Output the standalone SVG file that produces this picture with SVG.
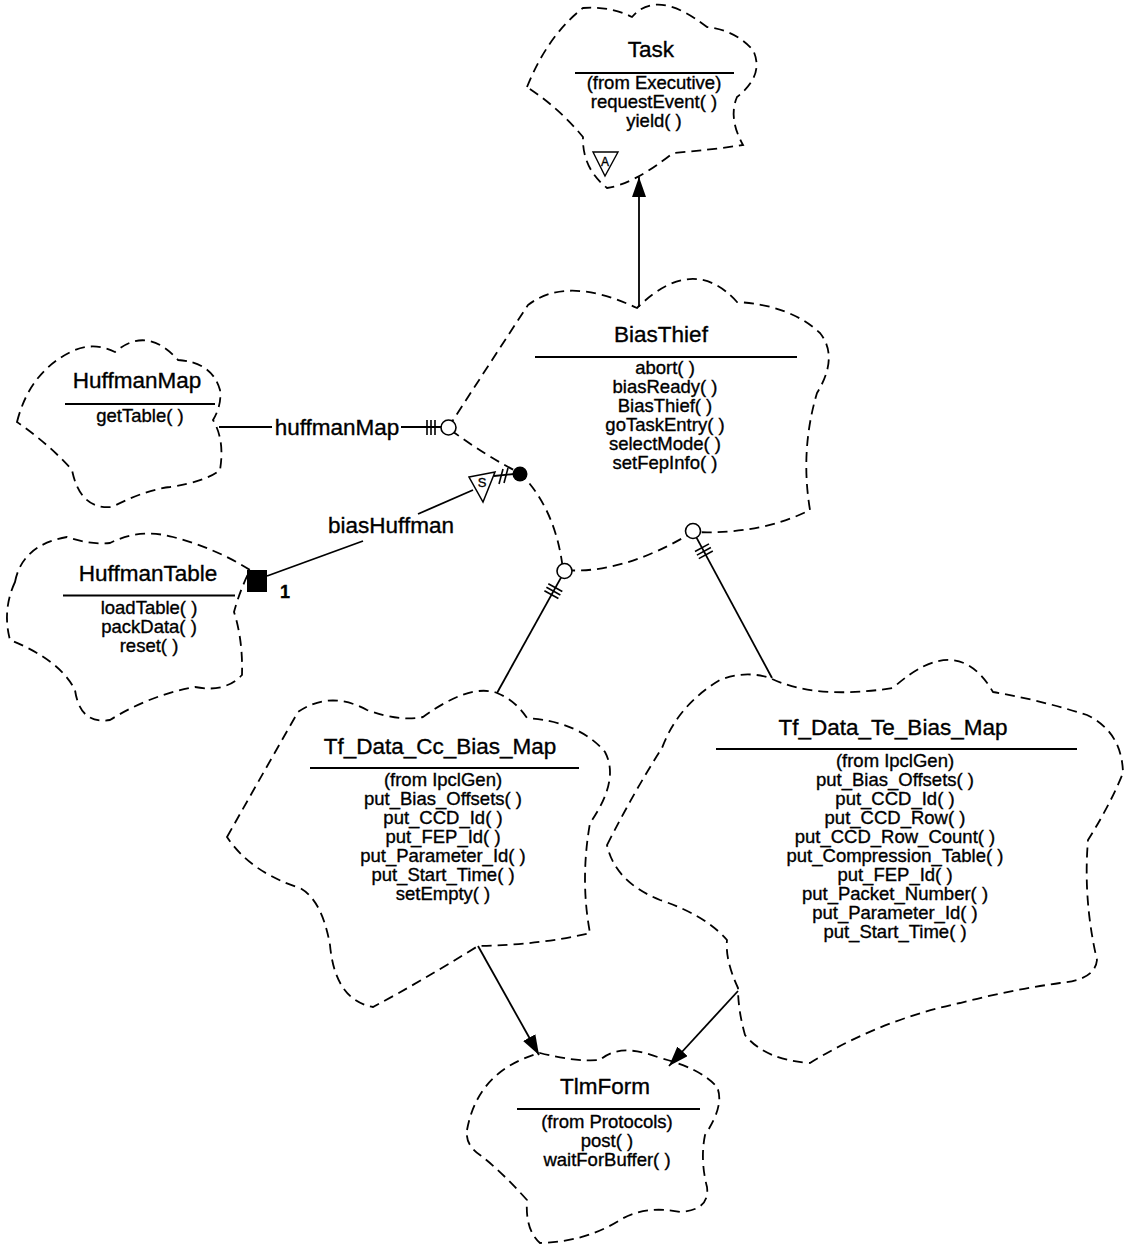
<svg xmlns="http://www.w3.org/2000/svg" width="1126" height="1248" viewBox="0 0 1126 1248">
<defs>
<style>
.cloud{fill:none;stroke:#000;stroke-width:1.8;stroke-dasharray:10 6;}
.t{font-family:"Liberation Sans",Arial,Helvetica,sans-serif;fill:#000;stroke:#000;stroke-width:0.35;text-anchor:middle;}
.title{font-size:22.5px;}
.mem{font-size:18.5px;}
.lbl{font-size:22.5px;}
.ul{stroke:#000;stroke-width:2;}
.conn{stroke:#000;stroke-width:1.8;fill:none;}
.hatch{stroke:#000;stroke-width:1.6;}
</style>
<marker id="arrow" markerUnits="userSpaceOnUse" viewBox="0 0 20 14" refX="20" refY="7" markerWidth="20" markerHeight="14" orient="auto">
<path d="M0,0 L20,7 L0,14 Z" fill="#000"/>
</marker>
</defs>
<rect width="1126" height="1248" fill="#fff"/>

<g id="task">
<path class="cloud" d="M 527,87 Q 548,35 583,8 Q 610,6 632,17 Q 657,-12 707,27 Q 735,30 753,50 Q 765,75 737,97 Q 728,118 743,145 Q 710,150 673,153 Q 634,184 607,188 Q 582,168 583,137 Q 559,108 527,87 Z"/>
<text class="t title" x="651" y="57">Task</text>
<line class="ul" x1="575" y1="73" x2="734" y2="73"/>
<text class="t mem"><tspan x="654" y="89">(from Executive)</tspan><tspan x="654" y="108">requestEvent( )</tspan><tspan x="654" y="127">yield( )</tspan></text>
<polygon points="593,152 618,152 605,176" fill="#fff" stroke="#000" stroke-width="1.4"/>
<text class="t" x="605" y="166" font-size="12">A</text>
</g>

<g id="biasthief">
<path class="cloud" d="M 448,428 Q 488,366 528,305 Q 567,275 637,308 Q 693,253 737,302 Q 790,305 820,333 Q 839,357 817,393 Q 800,450 810,510 Q 760,535 693,532 Q 622,575 563,570 Q 556,509 520,473 Q 487,457 448,428 Z"/>
<text class="t title" x="661" y="342">BiasThief</text>
<line class="ul" x1="535" y1="357" x2="797" y2="357"/>
<text class="t mem"><tspan x="665" y="374">abort( )</tspan><tspan x="665" y="393">biasReady( )</tspan><tspan x="665" y="412">BiasThief( )</tspan><tspan x="665" y="431">goTaskEntry( )</tspan><tspan x="665" y="450">selectMode( )</tspan><tspan x="665" y="469">setFepInfo( )</tspan></text>
</g>

<g id="huffmanmap">
<path class="cloud" d="M 17,422 Q 30,370 75,350 Q 95,342 115,352 Q 147,325 178,360 Q 212,362 220,390 Q 222,405 213,420 Q 225,440 220,470 Q 205,482 170,487 Q 145,490 112,507 Q 80,510 72,470 Q 50,445 17,422 Z"/>
<text class="t title" x="137" y="388">HuffmanMap</text>
<line class="ul" x1="65" y1="404" x2="215" y2="404"/>
<text class="t mem" x="140" y="422">getTable( )</text>
</g>

<g id="huffmantable">
<path class="cloud" d="M 15,582 Q 22,545 67,537 Q 90,545 110,543 Q 140,528 173,537 Q 215,548 250,570 Q 240,590 234,612 Q 243,640 242,675 Q 225,693 195,687 Q 150,695 110,720 Q 80,725 75,690 Q 60,660 10,640 Q 2,610 15,582 Z"/>
<text class="t title" x="148" y="581">HuffmanTable</text>
<line class="ul" x1="63" y1="595.5" x2="235" y2="595.5"/>
<text class="t mem"><tspan x="149" y="614">loadTable( )</tspan><tspan x="149" y="633">packData( )</tspan><tspan x="149" y="652">reset( )</tspan></text>
</g>

<g id="tf_data_cc_bias_map">
<path class="cloud" d="M 227,837 Q 262,775 298,712 Q 330,690 367,710 Q 400,722 423,717 Q 470,683 497,693 Q 515,700 527,718 Q 580,722 605,752 Q 620,780 590,823 Q 580,880 590,933 Q 540,945 478,946 Q 420,982 373,1007 Q 335,1000 330,945 Q 322,900 300,888 Q 250,872 227,837 Z"/>
<text class="t title" x="440" y="754">Tf_Data_Cc_Bias_Map</text>
<line class="ul" x1="310" y1="768" x2="579" y2="768"/>
<text class="t mem"><tspan x="443" y="786">(from IpclGen)</tspan><tspan x="443" y="805">put_Bias_Offsets( )</tspan><tspan x="443" y="824">put_CCD_Id( )</tspan><tspan x="443" y="843">put_FEP_Id( )</tspan><tspan x="443" y="862">put_Parameter_Id( )</tspan><tspan x="443" y="881">put_Start_Time( )</tspan><tspan x="443" y="900">setEmpty( )</tspan></text>
</g>

<g id="tf_data_te_bias_map">
<path class="cloud" d="M 607,845 Q 635,790 662,748 Q 678,705 720,680 Q 745,670 770,678 Q 815,700 893,688 Q 957,630 993,692 Q 1040,700 1087,715 Q 1122,732 1123,773 Q 1110,805 1088,840 Q 1083,900 1097,960 Q 1095,980 1060,983 Q 1010,990 960,1003 Q 880,1020 810,1063 Q 765,1060 745,1035 Q 738,1010 738,988 Q 725,960 727,940 Q 705,915 660,900 Q 615,882 607,845 Z"/>
<text class="t title" x="893" y="735">Tf_Data_Te_Bias_Map</text>
<line class="ul" x1="716" y1="749" x2="1077" y2="749"/>
<text class="t mem"><tspan x="895" y="767">(from IpclGen)</tspan><tspan x="895" y="786">put_Bias_Offsets( )</tspan><tspan x="895" y="805">put_CCD_Id( )</tspan><tspan x="895" y="824">put_CCD_Row( )</tspan><tspan x="895" y="843">put_CCD_Row_Count( )</tspan><tspan x="895" y="862">put_Compression_Table( )</tspan><tspan x="895" y="881">put_FEP_Id( )</tspan><tspan x="895" y="900">put_Packet_Number( )</tspan><tspan x="895" y="919">put_Parameter_Id( )</tspan><tspan x="895" y="938">put_Start_Time( )</tspan></text>
</g>

<g id="tlmform">
<path class="cloud" d="M 467,1130 Q 478,1070 540,1053 Q 575,1062 600,1060 Q 620,1042 660,1058 Q 700,1068 717,1087 Q 725,1105 705,1135 Q 700,1160 707,1187 Q 710,1210 680,1212 Q 645,1205 620,1220 Q 585,1242 540,1243 Q 525,1230 527,1200 Q 500,1170 480,1155 Q 465,1145 467,1130 Z"/>
<text class="t title" x="605" y="1094">TlmForm</text>
<line class="ul" x1="517" y1="1109" x2="700" y2="1109"/>
<text class="t mem"><tspan x="607" y="1128">(from Protocols)</tspan><tspan x="607" y="1147">post( )</tspan><tspan x="607" y="1166">waitForBuffer( )</tspan></text>
</g>

<g id="connectors">
<line class="conn" x1="639" y1="307" x2="639" y2="177" marker-end="url(#arrow)"/>
<line class="conn" x1="219" y1="427" x2="272" y2="427"/>
<line class="conn" x1="401" y1="427" x2="441" y2="427"/>
<text class="t lbl" x="337" y="435">huffmanMap</text>
<line class="hatch" x1="427" y1="420" x2="427" y2="435"/>
<line class="hatch" x1="431" y1="420" x2="431" y2="435"/>
<line class="hatch" x1="435" y1="420" x2="435" y2="435"/>
<circle cx="448.5" cy="427.5" r="7.5" fill="#fff" stroke="#000" stroke-width="1.6"/>
<rect x="247" y="570" width="20" height="22" fill="#000"/>
<text class="t" x="285" y="598" font-size="18" font-weight="bold">1</text>
<line class="conn" x1="267" y1="576" x2="363" y2="541"/>
<line class="conn" x1="418" y1="514" x2="473" y2="490"/>
<text class="t lbl" x="391" y="533">biasHuffman</text>
<polygon points="469,477 495,472 483,502" fill="#fff" stroke="#000" stroke-width="1.5"/>
<text class="t" x="482" y="487" font-size="13">S</text>
<line class="conn" x1="494" y1="476" x2="514" y2="474"/>
<line class="hatch" x1="503" y1="469" x2="499" y2="484"/>
<line class="hatch" x1="508" y1="468" x2="504" y2="483"/>
<circle cx="520" cy="474" r="7.5" fill="#000"/>
<line class="conn" x1="561" y1="577.6" x2="497" y2="693"/>
<line class="hatch" x1="548.3" y1="583.7" x2="562.3" y2="591.5"/>
<line class="hatch" x1="546.4" y1="587.2" x2="560.4" y2="595"/>
<line class="hatch" x1="544.4" y1="590.7" x2="558.4" y2="598.5"/>
<circle cx="564.5" cy="571" r="7.5" fill="#fff" stroke="#000" stroke-width="1.6"/>
<line class="conn" x1="696.5" y1="537.6" x2="772" y2="678"/>
<line class="hatch" x1="695" y1="551.5" x2="709" y2="543.9"/>
<line class="hatch" x1="696.9" y1="555.1" x2="710.9" y2="547.5"/>
<line class="hatch" x1="698.8" y1="558.6" x2="712.8" y2="551"/>
<circle cx="693" cy="531" r="7.5" fill="#fff" stroke="#000" stroke-width="1.6"/>
<line class="conn" x1="478" y1="946" x2="539" y2="1055" marker-end="url(#arrow)"/>
<line class="conn" x1="738" y1="991" x2="669" y2="1066" marker-end="url(#arrow)"/>
</g>
</svg>
